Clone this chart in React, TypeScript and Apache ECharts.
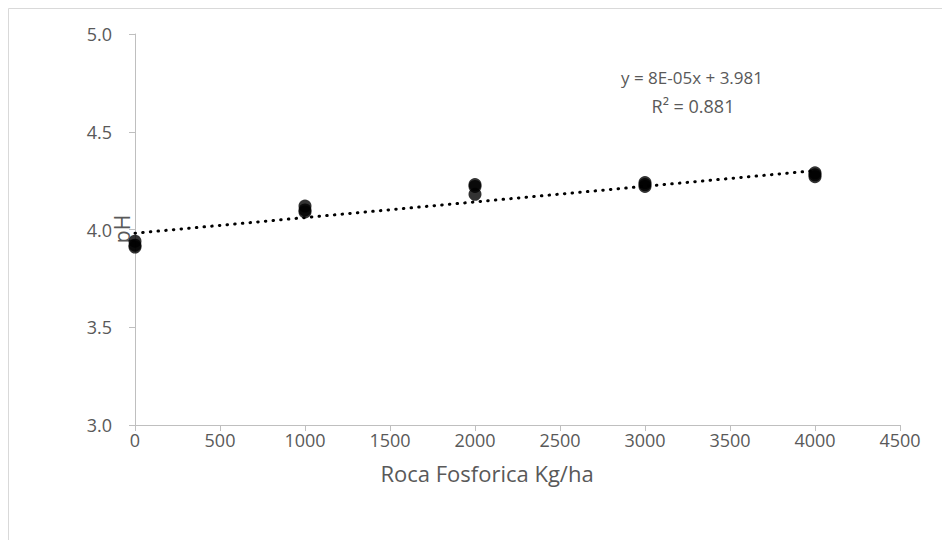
import React, { useEffect, useRef } from "react";
import * as echarts from "echarts";

const doseKgHa = [0, 0, 0, 1000, 1000, 1000, 2000, 2000, 2000, 3000, 3000, 3000, 4000, 4000, 4000];
const phValues = [3.94, 3.92, 3.91, 4.12, 4.10, 4.09, 4.23, 4.22, 4.18, 4.24, 4.23, 4.22, 4.29, 4.28, 4.27];
const trendSlope = 0.00008;
const trendIntercept = 3.981;
const trendRange = [0, 4000];
const equationText = "y = 8E-05x + 3.981";
const r2Text = "R² = 0.881";
const xTitle = "Roca Fosforica Kg/ha";
const yTitle = "pH";

const FONT = "'Open Sans', sans-serif";
const TEXT = "#595959";

export default function App() {
  const ref = useRef<HTMLDivElement>(null);
  useEffect(() => {
    document.body.style.margin = "0";
    document.body.style.overflow = "hidden";
    if (!ref.current) return;
    const chart = echarts.init(ref.current, undefined, { renderer: "svg" });
    const points = doseKgHa.map((x, i) => [x, phValues[i]]);
    const trend = trendRange.map((x) => [x, trendIntercept + trendSlope * x]);
    chart.setOption({
      animation: false,
      backgroundColor: "#ffffff",
      textStyle: { fontFamily: FONT },
      grid: { left: 135, right: 42, top: 34, bottom: 115, containLabel: false },
      xAxis: {
        type: "value",
        min: 0,
        max: 4500,
        interval: 500,
        axisLine: { show: true, onZero: false, lineStyle: { color: "#bfbfbf", width: 1 } },
        axisTick: { show: true, length: 6, lineStyle: { color: "#bfbfbf" } },
        axisLabel: {
          color: TEXT,
          fontSize: 18,
          fontFamily: FONT,
          margin: 6,
          formatter: (v: number) => String(v),
        },
        splitLine: { show: false },
      },
      yAxis: {
        type: "value",
        min: 3,
        max: 5,
        interval: 0.5,
        axisLine: { show: true, onZero: false, lineStyle: { color: "#bfbfbf", width: 1 } },
        axisTick: { show: true, length: 6, lineStyle: { color: "#bfbfbf" } },
        axisLabel: {
          color: TEXT,
          fontSize: 18,
          fontFamily: FONT,
          margin: 23,
          formatter: (v: number) => v.toFixed(1),
        },
        splitLine: { show: false },
      },
      series: [
        {
          type: "line",
          data: trend,
          symbol: "none",
          lineStyle: { color: "#000000", width: 3, type: [0.5, 7.2], cap: "round" },
          z: 1,
        },
        {
          type: "scatter",
          data: points,
          symbol: "circle",
          symbolSize: 13,
          itemStyle: { color: "#000000" },
          z: 2,
        },
      ],
      graphic: [
        {
          type: "rect",
          shape: { x: 8.5, y: 8.5, width: 960, height: 620 },
          style: { fill: "none", stroke: "#d9d9d9", lineWidth: 1 },
          silent: true,
        },
        {
          type: "text",
          x: 122,
          y: 229,
          rotation: Math.PI / 2,
          style: {
            text: yTitle,
            fill: TEXT,
            fontSize: 21,
            fontFamily: FONT,
            align: "center",
            verticalAlign: "middle",
          },
        },
        {
          type: "text",
          x: 487,
          y: 473,
          style: {
            text: xTitle,
            fill: TEXT,
            fontSize: 22,
            fontFamily: FONT,
            align: "center",
            verticalAlign: "middle",
          },
        },
        {
          type: "text",
          x: 692,
          y: 77,
          style: {
            text: equationText,
            fill: TEXT,
            fontSize: 17,
            fontFamily: FONT,
            align: "center",
            verticalAlign: "middle",
          },
        },
        {
          type: "text",
          x: 693,
          y: 106,
          style: {
            text: r2Text,
            fill: TEXT,
            fontSize: 18,
            fontFamily: FONT,
            align: "center",
            verticalAlign: "middle",
          },
        },
      ],
    });
    return () => chart.dispose();
  }, []);
  return <div ref={ref} style={{ width: 942, height: 540 }} />;
}
